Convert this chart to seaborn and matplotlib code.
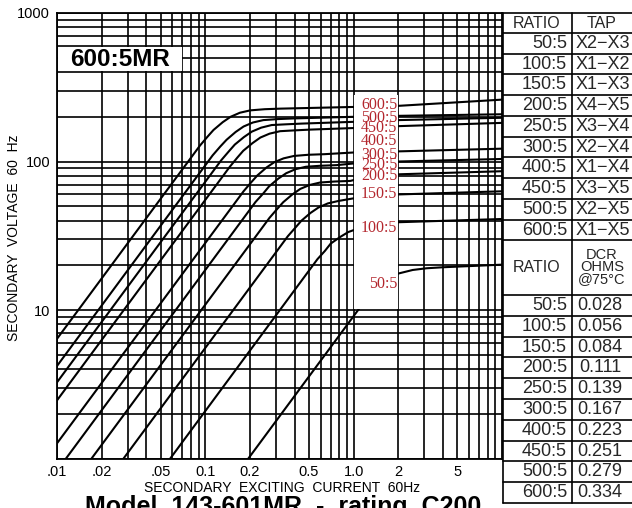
import numpy as np
import pandas as pd
import matplotlib
matplotlib.use("Agg")
import matplotlib.pyplot as plt
import seaborn as sns
from matplotlib.patches import Rectangle
from matplotlib.ticker import LogLocator, NullFormatter

# excitation curves: secondary current (A) vs secondary voltage (V)
i_600 = [0.00253, 0.092, 0.1035, 0.1135, 0.131, 0.148, 0.171, 0.201, 0.252, 0.322, 1.0, 2.0, 10.0]
v_600 = [1.0, 128, 147, 163, 184, 200, 213, 221, 225, 227, 233, 237, 261]
i_500 = [0.00346, 0.112, 0.126, 0.139, 0.160, 0.181, 0.209, 0.246, 0.307, 0.393, 1.0, 2.0, 10.0]
v_500 = [1.0, 110, 126, 140, 158, 172, 183, 190, 193, 195, 200, 203, 208]
i_450 = [0.00417, 0.128, 0.144, 0.158, 0.182, 0.206, 0.238, 0.280, 0.350, 0.447, 1.0, 2.0, 10.0]
v_450 = [1.0, 102, 117, 130, 146, 159, 169, 176, 178, 180, 185, 190, 197]
i_400 = [0.00513, 0.146, 0.164, 0.180, 0.208, 0.235, 0.271, 0.319, 0.399, 0.511, 1.0, 2.0, 10.0]
v_400 = [1.0, 92, 106, 118, 133, 145, 154, 160, 162, 164, 168, 173, 182]
i_300 = [0.0084, 0.181, 0.204, 0.224, 0.258, 0.292, 0.337, 0.396, 0.495, 0.634, 1.0, 2.0, 10.0]
v_300 = [1.0, 63, 72.5, 80.5, 91, 99, 105, 109, 111, 112, 115, 117, 122]
i_250 = [0.0115, 0.218, 0.246, 0.269, 0.310, 0.351, 0.406, 0.477, 0.597, 0.764, 1.0, 2.0, 10.0]
v_250 = [1.0, 53.4, 61, 68, 76.6, 83.4, 88.8, 92.2, 93.6, 94.5, 97, 100, 104]
i_200 = [0.0171, 0.271, 0.305, 0.335, 0.386, 0.437, 0.505, 0.594, 0.742, 0.950, 1.0, 2.0, 10.0]
v_200 = [1.0, 41.8, 47.9, 53.2, 60, 65.4, 69.5, 72.2, 73.3, 74, 75, 82, 86]
i_150 = [0.0281, 0.360, 0.405, 0.444, 0.511, 0.579, 0.669, 0.787, 1.0, 2.0, 10.0]
v_150 = [1.0, 31.4, 35.9, 39.9, 45, 49, 52.2, 54.2, 56.5, 60, 63]
i_100 = [0.058, 0.57, 0.64, 0.70, 0.81, 0.92, 1.0, 1.25, 1.55, 2.0, 10.0]
v_100 = [1.0, 22, 25, 28, 31, 33.5, 34.5, 37, 38.3, 39, 41]
i_50 = [0.195, 1.15, 1.28, 1.41, 1.62, 1.84, 2.0, 2.5, 3.1, 4.0, 10.0]
v_50 = [1.0, 11, 12.6, 14, 15.8, 17.0, 17.6, 18.6, 19.1, 19.4, 20.2]

# red curve labels and the voltage they sit at
label_names = ['600:5', '500:5', '450:5', '400:5', '300:5', '250:5', '200:5', '150:5', '100:5', '50:5']
label_v = [241, 196, 168, 138, 111, 94, 79.6, 60, 35.9, 14.9]

# axis ticks
x_ticks = [0.01, 0.02, 0.05, 0.1, 0.2, 0.5, 1.0, 2.0, 5.0]
x_labels = ['.01', '.02', '.05', '0.1', '0.2', '0.5', '1.0', '2', '5']
y_ticks = [1, 10, 100, 1000]
y_labels = ['', '10', '100', '1000']

# tables on the right
ratios = ['50:5', '100:5', '150:5', '200:5', '250:5', '300:5', '400:5', '450:5', '500:5', '600:5']
taps = ['X2\u2212X3', 'X1\u2212X2', 'X1\u2212X3', 'X4\u2212X5', 'X3\u2212X4',
        'X2\u2212X4', 'X1\u2212X4', 'X3\u2212X5', 'X2\u2212X5', 'X1\u2212X5']
dcr = ['0.028', '0.056', '0.084', '0.111', '0.139', '0.167', '0.223', '0.251', '0.279', '0.334']

curves = {'600:5': (i_600, v_600), '500:5': (i_500, v_500), '450:5': (i_450, v_450),
          '400:5': (i_400, v_400), '300:5': (i_300, v_300), '250:5': (i_250, v_250),
          '200:5': (i_200, v_200), '150:5': (i_150, v_150), '100:5': (i_100, v_100),
          '50:5': (i_50, v_50)}
df = pd.concat([pd.DataFrame({'current': i, 'voltage': v, 'ratio': name})
                for name, (i, v) in curves.items()], ignore_index=True)

sns.set_theme(style="white")
plt.rcParams['font.family'] = ['Liberation Sans', 'DejaVu Sans']

W, H = 632, 508
fig = plt.figure(figsize=(W / 100, H / 100), dpi=100)
ax = fig.add_axes([57 / W, 49.5 / H, 445 / W, 445.5 / H])

sns.lineplot(data=df, x='current', y='voltage', hue='ratio', sort=False, estimator=None,
             palette={n: 'black' for n in curves}, linewidth=1.5, legend=False, ax=ax, zorder=2)

ax.set_xscale('log')
ax.set_yscale('log')
ax.set_xlim(0.01, 10)
ax.set_ylim(1, 1000)
ax.set_xticks(x_ticks, labels=x_labels)
ax.set_yticks(y_ticks, labels=y_labels)
ax.xaxis.set_minor_locator(LogLocator(base=10, subs=np.arange(2, 10), numticks=40))
ax.yaxis.set_minor_locator(LogLocator(base=10, subs=np.arange(2, 10), numticks=40))
ax.xaxis.set_minor_formatter(NullFormatter())
ax.yaxis.set_minor_formatter(NullFormatter())
ax.set_xlabel('')
ax.set_ylabel('')
ax.grid(which='both', color='black', linewidth=1.2)
ax.set_axisbelow(True)
ax.tick_params(which='both', length=0, labelsize=10.5, colors='black', pad=5)
for s in ax.spines.values():
    s.set_color('black')
    s.set_linewidth(1.3)

# white strip holding the red ratio labels
ax.add_patch(Rectangle((1.012, 10.2), 1.975 - 1.012, 280 - 10.2,
                       facecolor='white', edgecolor='none', zorder=3))
for name, v in zip(label_names, label_v):
    ax.text(1.965, v, name, ha='right', va='center', color='#b3262d',
            family=['Liberation Serif', 'DejaVu Serif'], fontsize=11.5, zorder=4)

# model box top-left
ax.add_patch(Rectangle((0.0101, 404), 0.0695 - 0.0101, 594 - 404,
                       facecolor='white', edgecolor='none', zorder=3))
ax.text(0.0264, 487, '600:5MR', ha='center', va='center', fontsize=17.5,
        fontweight='bold', color='black', zorder=4)

fig.text(14 / W, 1 - 238 / H, 'SECONDARY  VOLTAGE  60  Hz', rotation=90,
         ha='center', va='center', fontsize=10, color='black')
fig.text(282 / W, 1 - 488 / H, 'SECONDARY  EXCITING  CURRENT  60Hz',
         ha='center', va='center', fontsize=10, color='black')
# the model line sits partly below the bottom edge, as in the scan
fig.text(283 / W, 1 - 514 / H, 'Model  143-601MR  -  rating  C200',
         ha='center', va='baseline', fontsize=18, fontweight='bold', color='black')

# tables drawn in pixel coordinates on an overlay
ov = fig.add_axes([0, 0, 1, 1], zorder=5)
ov.set_xlim(0, W)
ov.set_ylim(H, 0)
ov.axis('off')

x_left, x_mid, x_right = 503, 572, W
top_rows = 33 + 20.74 * np.arange(11)
bot_rows = 295 + 20.8 * np.arange(11)
for y in np.concatenate([[12.5], top_rows, bot_rows]):
    ov.plot([x_left, x_right], [y, y], color='black', lw=1.2)
for x in [x_left, x_mid]:
    ov.plot([x, x], [12.5, bot_rows[-1]], color='black', lw=1.2)

ov.text(537, 23, 'RATIO', ha='center', va='center', fontsize=11.5)
ov.text(602, 23, 'TAP', ha='center', va='center', fontsize=11.5)
for k, (r, t) in enumerate(zip(ratios, taps)):
    yc = (top_rows[k] + top_rows[k + 1]) / 2
    ov.text(567, yc, r, ha='right', va='center', fontsize=13)
    ov.text(603, yc, t, ha='center', va='center', fontsize=13)

ov.text(537, 268, 'RATIO', ha='center', va='center', fontsize=11.5)
ov.text(602, 267, 'DCR\nOHMS\n@75\u00b0C', ha='center', va='center', fontsize=10.5,
        linespacing=0.85)
for k, (r, d) in enumerate(zip(ratios, dcr)):
    yc = (bot_rows[k] + bot_rows[k + 1]) / 2
    ov.text(567, yc, r, ha='right', va='center', fontsize=13)
    ov.text(600, yc, d, ha='center', va='center', fontsize=13)

fig.savefig('out.png', dpi=100)
